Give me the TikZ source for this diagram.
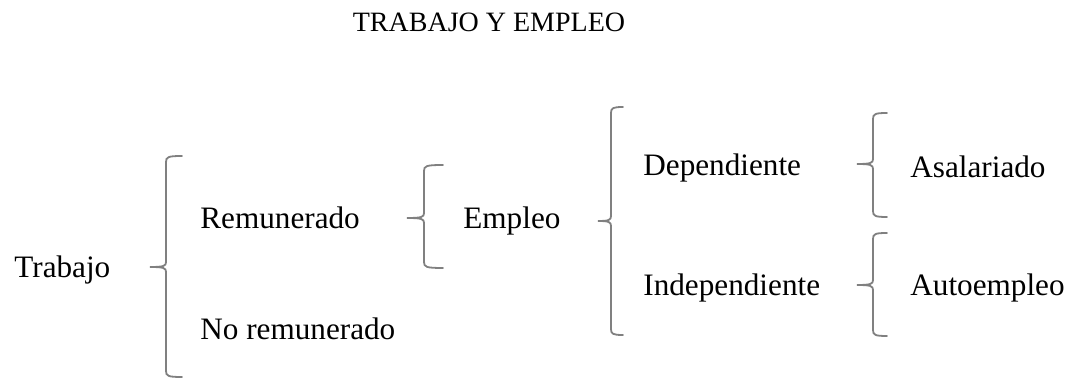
\documentclass[tikz,border=0pt]{standalone}
\usepackage{fontspec}
\setmainfont{Liberation Serif}
\usetikzlibrary{positioning}

\begin{document}
\begin{tikzpicture}[x=0.5pt,y=-0.5pt]

		\tikzset{texto/.style={anchor=base west,inner sep=0pt,font=\fontsize{15.6}{19}\selectfont}}
		\tikzset{llave/.style={draw=black!50,line width=0.9pt,line cap=round}}
	    \useasboundingbox (0,0) rectangle (1073,378);

	    \node (titulo) [anchor=base,inner sep=0pt,font=\fontsize{14}{17}\selectfont] at (489,32) {TRABAJO Y EMPLEO};

	    \node[texto] (trabajo) at (14,278) {Trabajo};
	    \node[texto] (remunerado) at (200,229) {Remunerado};
	    \node[texto] (noremun) at (200,340) {No remunerado};
	    \node[texto] (empleo) at (463,229) {Empleo};
	    \node[texto] (dependiente) at (643,176) {Dependiente};
	    \node[texto] (independiente) at (643,296) {Independiente};
	    \node[texto] (asalariado) at (910,178) {Asalariado};
	    \node[texto] (autoempleo) at (910,296) {Autoempleo};

	    % llaves
	    \draw[llave] (182,156) .. controls (168,156) and (166,157) .. (166,162) -- (166,262)
	    	.. controls (166,266) and (164,267) .. (150,267) .. controls (164,267) and (166,268) .. (166,272)
	    	-- (166,371) .. controls (166,376) and (168,377) .. (182,377);
	    \draw[llave] (443,165) .. controls (426,165) and (424,166) .. (424,171) -- (424,213)
	    	.. controls (424,217) and (422,218) .. (407,218) .. controls (422,218) and (424,219) .. (424,223)
	    	-- (424,262) .. controls (424,267) and (426,268) .. (443,268);
	    \draw[llave] (623,107) .. controls (613,107) and (611,108) .. (611,113) -- (611,216)
	    	.. controls (611,220) and (609,221) .. (598,221) .. controls (609,221) and (611,222) .. (611,226)
	    	-- (611,329) .. controls (611,334) and (613,335) .. (623,335);
	    \draw[llave] (887,113) .. controls (875,113) and (873,114) .. (873,119) -- (873,159)
	    	.. controls (873,163) and (871,164) .. (857,164) .. controls (871,164) and (873,165) .. (873,169)
	    	-- (873,211) .. controls (873,216) and (875,217) .. (887,217);
	    \draw[llave] (887,233) .. controls (875,233) and (873,234) .. (873,239) -- (873,280)
	    	.. controls (873,284) and (871,285) .. (857,285) .. controls (871,285) and (873,286) .. (873,290)
	    	-- (873,330) .. controls (873,335) and (875,336) .. (887,336);

	\end{tikzpicture}
\end{document}
